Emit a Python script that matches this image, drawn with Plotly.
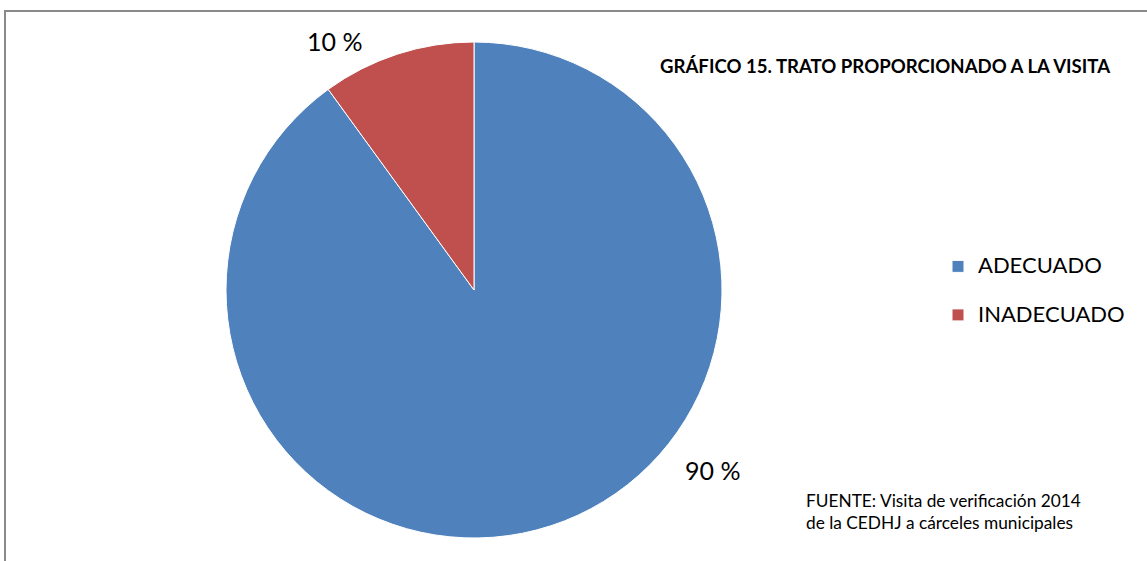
import plotly.graph_objects as go

categories = ["ADECUADO", "INADECUADO"]
values = [90, 10]
label_texts = ["90 %", "10 %"]
colors = ["#4F81BD", "#C0504D"]

W, H = 1147, 561
cx, cy, r = 474, 290, 248
font = "Lato"

# legend labels: category text on first line, spacer line to widen item spacing
legend_labels = [f"<span style='font-size:22px'>{c}</span><br> " for c in categories]

fig = go.Figure(go.Pie(
    labels=legend_labels, values=values, sort=False, direction="clockwise", rotation=0,
    marker=dict(colors=colors, line=dict(color="white", width=1)),
    textinfo="none", customdata=categories,
    hovertemplate="%{customdata}: %{percent}<extra></extra>",
    domain=dict(x=[(cx - r) / W, (cx + r) / W], y=[(H - cy - r) / H, (H - cy + r) / H]),
))


def px_ann(x, y, text, size, xanchor="center", bold=False, align="center"):
    fig.add_annotation(x=x / W, y=1 - y / H, xref="paper", yref="paper",
                       xanchor=xanchor, yanchor="middle", align=align,
                       text=f"<b>{text}</b>" if bold else text,
                       showarrow=False, font=dict(family=font, size=size, color="#000"))


px_ann(712, 470, label_texts[0], 25)
px_ann(334, 41, label_texts[1], 25)
px_ann(885, 66, "GRÁFICO 15. TRATO PROPORCIONADO A LA VISITA", 18.6, bold=True)
px_ann(804, 512, "FUENTE: Visita de verificación 2014<br>de la CEDHJ a cárceles municipales",
       17.3, xanchor="left", align="left")

fig.add_shape(type="rect", xref="paper", yref="paper", x0=5 / W, x1=1.05, y0=-0.05, y1=1 - 11 / H,
              line=dict(color="#8A8A8A", width=2), fillcolor="rgba(0,0,0,0)")

fig.update_layout(
    width=W, height=H, margin=dict(l=0, r=0, t=0, b=0, pad=0, autoexpand=False),
    paper_bgcolor="white", plot_bgcolor="white",
    showlegend=True,
    legend=dict(x=938 / W, y=1 - 302 / H, yanchor="middle", xanchor="left", valign="top",
                font=dict(family=font, size=17.5, color="#000"), tracegroupgap=0,
                itemwidth=30),
)
fig.write_html("out.html")
